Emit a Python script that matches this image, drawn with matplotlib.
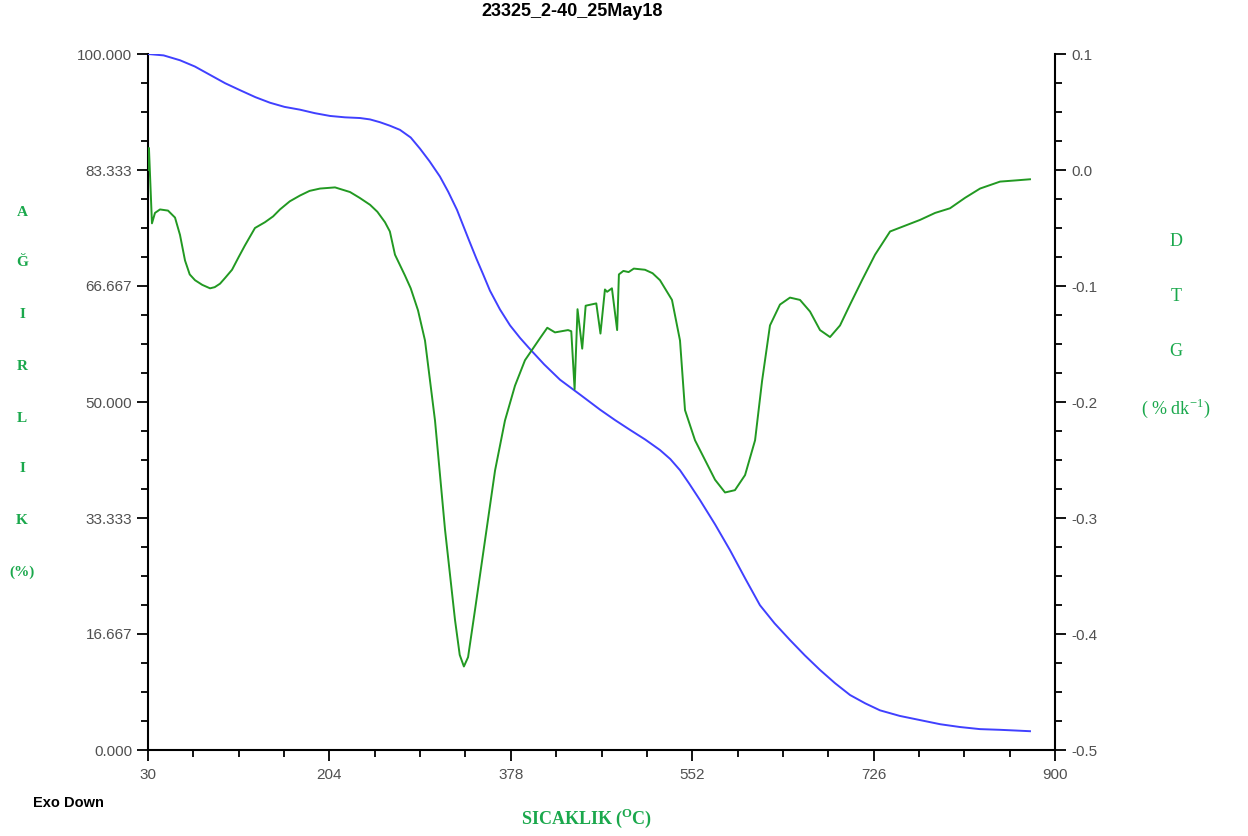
import numpy as np
import matplotlib
matplotlib.use("Agg")
import matplotlib.pyplot as plt
from matplotlib.ticker import MultipleLocator, FixedLocator

plt.rcParams["axes.unicode_minus"] = False
plt.rcParams["font.family"] = ["Liberation Sans", "DejaVu Sans"]

# TG curve (weight %, left axis)
tg_temp = [30, 45, 60.7, 75, 89.5, 104, 118.3, 133, 147, 161, 175.8, 190, 204.6, 219, 233.4,
           243, 252.5, 262, 271.7, 282, 290.9, 300, 310, 318, 326.4, 338, 345, 351.3, 358,
           367.6, 377.3, 386.9, 396.4, 410, 425.2, 445, 463.6, 478, 492.3, 507, 521.1, 531,
           540.3, 549, 559.5, 574, 588.3, 603, 617, 631, 645.8, 660, 674.6, 689, 703.4, 718,
           732.1, 751, 770.5, 790, 808.9, 828, 847.3, 862, 876]
tg_weight = [100, 99.8, 99.1, 98.2, 97.0, 95.8, 94.8, 93.8, 93.0, 92.4, 92.0, 91.5, 91.1, 90.9, 90.8,
             90.6, 90.2, 89.7, 89.1, 88.0, 86.4, 84.6, 82.4, 80.2, 77.6, 73.2, 70.6, 68.4, 66.0,
             63.3, 61.0, 59.2, 57.6, 55.4, 53.2, 51.0, 48.9, 47.4, 46.0, 44.6, 43.1, 41.8,
             40.2, 38.3, 35.9, 32.4, 28.7, 24.6, 20.8, 18.2, 15.8, 13.6, 11.5, 9.6, 7.9, 6.7,
             5.7, 4.9, 4.3, 3.7, 3.3, 3.0, 2.9, 2.8, 2.7]

# DTG curve (% / min, right axis)
dtg_temp = [30, 30.9, 33.8, 36.7, 41.5, 49.2, 55.9, 60.7, 65.5, 70, 75.1, 82, 89.5, 94, 99.1,
            104, 110.6, 117, 123, 132.6, 142.2, 150, 156.6, 166, 175.8, 185, 195, 209.4,
            223.8, 233, 243, 250, 257.3, 262, 266.9, 276.5, 282, 289, 295.7, 305.3, 314.9,
            324.5, 329, 333, 337, 343.7, 353.3, 362.9, 372.4, 382, 391.6, 406, 413, 420.4,
            432.9, 436, 439.2, 442, 446.5, 449.8, 460, 464, 468.3, 470.4, 475, 480, 481.7,
            486, 491, 496, 506.7, 514, 521.1, 532.6, 540.3, 545.1, 554.7, 564.3, 573.9,
            583.5, 593, 602.7, 612.3, 619, 626.6, 636.2, 645.8, 655.4, 665, 674.6, 684.2,
            693.8, 703.4, 714.9, 727.4, 741.8, 756.2, 770.6, 785, 799.3, 813.7, 828.1,
            847.3, 862, 876]
dtg_value = [0.0, 0.019, -0.046, -0.037, -0.034, -0.035, -0.041, -0.056, -0.078, -0.090, -0.095,
             -0.099, -0.102, -0.101, -0.098, -0.093, -0.086, -0.075, -0.065, -0.050, -0.045,
             -0.040, -0.034, -0.027, -0.022, -0.018, -0.016, -0.015, -0.019, -0.024, -0.030,
             -0.036, -0.045, -0.053, -0.073, -0.091, -0.102, -0.121, -0.147, -0.216, -0.310,
             -0.388, -0.418, -0.428, -0.420, -0.379, -0.319, -0.259, -0.216, -0.186, -0.164,
             -0.145, -0.136, -0.140, -0.138, -0.139, -0.189, -0.120, -0.154, -0.117, -0.115,
             -0.141, -0.103, -0.105, -0.102, -0.138, -0.090, -0.087, -0.088, -0.085, -0.086,
             -0.089, -0.095, -0.112, -0.147, -0.207, -0.233, -0.250, -0.267, -0.278, -0.276,
             -0.263, -0.233, -0.182, -0.134, -0.116, -0.110, -0.112, -0.122, -0.138, -0.144,
             -0.134, -0.116, -0.095, -0.073, -0.053, -0.048, -0.043, -0.037, -0.033, -0.024,
             -0.016, -0.010, -0.009, -0.008]

x_ticks = [30, 204, 378, 552, 726, 900]
left_ticks = [0, 16.667, 33.333, 50, 66.667, 83.333, 100]
left_labels = ["0.000", "16.667", "33.333", "50.000", "66.667", "83.333", "100.000"]
right_ticks = [-0.5, -0.4, -0.3, -0.2, -0.1, 0.0, 0.1]
right_labels = ["-0.5", "-0.4", "-0.3", "-0.2", "-0.1", "0.0", "0.1"]

green_txt = "#1aa84c"
tick_col = "#505050"

fig = plt.figure(figsize=(12.48, 8.36), dpi=100)
ax = fig.add_axes([148 / 1248, 86 / 836, 907 / 1248, 696 / 836])
ax2 = ax.twinx()

ax.plot(tg_temp, tg_weight, color="#4040ff", linewidth=1.4, zorder=3)
ax2.plot(dtg_temp, dtg_value, color="#229922", linewidth=1.4)

ax.set_xlim(30, 900)
ax.set_ylim(0, 100)
ax2.set_ylim(-0.5, 0.1)

ax.xaxis.set_major_locator(FixedLocator(x_ticks))
ax.xaxis.set_minor_locator(FixedLocator(np.arange(30, 901, 43.5)))
ax.set_xticklabels([str(t) for t in x_ticks])
ax.yaxis.set_major_locator(FixedLocator(left_ticks))
ax.yaxis.set_minor_locator(MultipleLocator(100 / 24))
ax.set_yticklabels(left_labels)
ax2.yaxis.set_major_locator(FixedLocator(right_ticks))
ax2.yaxis.set_minor_locator(MultipleLocator(0.025))
ax2.set_yticklabels(right_labels)

for a in (ax, ax2):
    a.spines["top"].set_visible(False)
    a.tick_params(which="major", length=8, width=1.3, labelsize=11, labelcolor=tick_col)
    a.tick_params(which="minor", length=5, width=1.3)
ax.spines["right"].set_visible(False)
ax2.spines["left"].set_visible(False)
ax2.spines["bottom"].set_visible(False)
ax.spines["left"].set_linewidth(1.5)
ax.spines["bottom"].set_linewidth(1.5)
ax2.spines["right"].set_linewidth(1.5)
ax.tick_params(axis="x", which="both", pad=5)

fig.text(572 / 1248, 1 - 12 / 836, "23325_2-40_25May18", ha="center", va="center",
         fontsize=13, fontweight="bold", color="black")
fig.text(68 / 1248, 1 - 803 / 836, "Exo Down", ha="center", va="center",
         fontsize=10.5, fontweight="bold", color="black")

serif = ["Liberation Serif", "DejaVu Serif"]
left_letters = ["A", "Ğ", "I", "R", "L", "I", "K", "(%)"]
left_y = [212, 262, 314, 366, 418, 468, 520, 572]
for s, y in zip(left_letters, left_y):
    fig.text(22 / 1248, 1 - y / 836, s, ha="center", va="center", family=serif,
             fontsize=11, fontweight="bold", color=green_txt)

right_letters = ["D", "T", "G", "( % dk$^{\\mathregular{-1}}$)"]
right_y = [242, 296, 352, 408]
for s, y in zip(right_letters, right_y):
    fig.text(1176 / 1248, 1 - y / 836, s, ha="center", va="center", family=serif,
             fontsize=13, color=green_txt)

fig.text(587 / 1248, 1 - 818 / 836, "SICAKLIK ($^{\\mathregular{O}}$C)", ha="center", va="center",
         family=serif, fontsize=13, fontweight="bold", color=green_txt)

fig.savefig("out.png", dpi=100)
